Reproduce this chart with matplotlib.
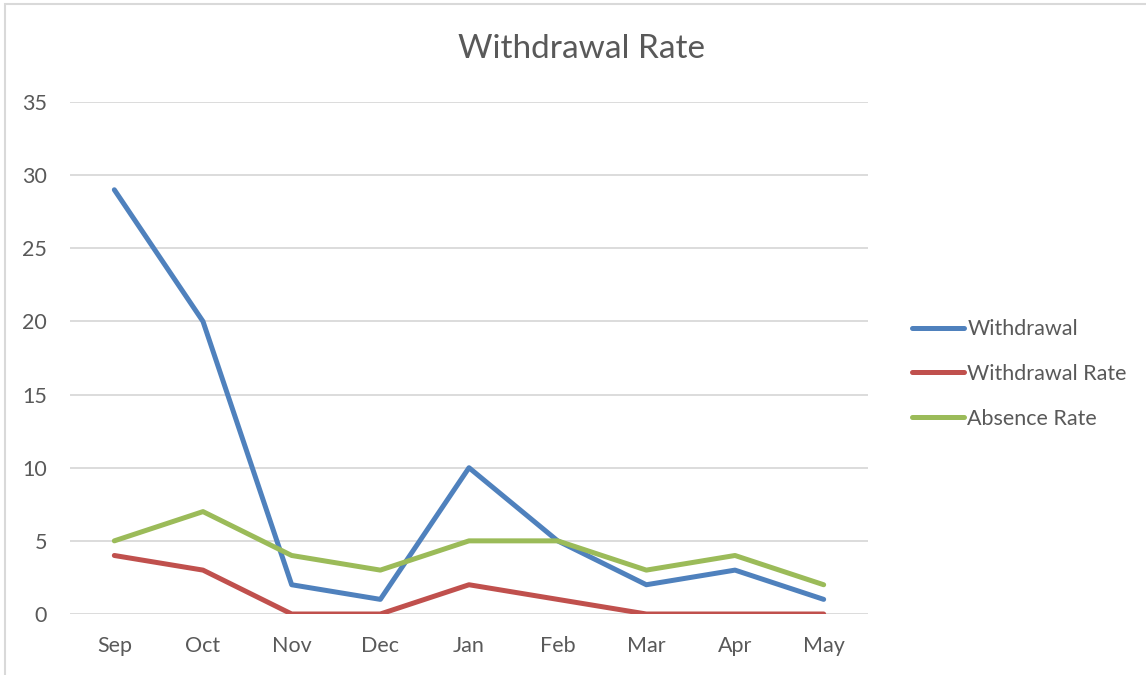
import matplotlib.pyplot as plt
import matplotlib.patches as mpatches

months = ["Sep", "Oct", "Nov", "Dec", "Jan", "Feb", "Mar", "Apr", "May"]
withdrawal = [29, 20, 2, 1, 10, 5, 2, 3, 1]
withdrawal_rate = [4, 3, 0, 0, 2, 1, 0, 0, 0]
absence_rate = [5, 7, 4, 3, 5, 5, 3, 4, 2]
yticks = [0, 5, 10, 15, 20, 25, 30, 35]

plt.rcParams['font.family'] = ['Lato', 'DejaVu Sans']
text_color = '#595959'
grid_color = '#D9D9D9'

W, H = 1146, 675
fig = plt.figure(figsize=(W / 100, H / 100), dpi=100)
ax = fig.add_axes([70 / W, (H - 614) / H, (868 - 70) / W, (614 - 102) / H])

# chart border (only left/top visible in the original)
fig.patches.append(mpatches.Rectangle((5 / W, -0.1), 1.2, 1 - 4 / H + 0.1,
                                      transform=fig.transFigure, fill=False,
                                      edgecolor='#D9D9D9', linewidth=1.5))

x = range(len(months))
series = [
    ("Withdrawal", withdrawal, '#4F81BD'),
    ("Withdrawal Rate", withdrawal_rate, '#C0504D'),
    ("Absence Rate", absence_rate, '#9BBB59'),
]
for label, vals, color in series:
    ax.plot(x, vals, color=color, linewidth=3.6, label=label,
            solid_joinstyle='round', solid_capstyle='round', zorder=3)

ax.set_xlim(-0.5, len(months) - 0.5)
ax.set_ylim(0, 35)
ax.set_xticks(list(x))
ax.set_xticklabels(months)
ax.set_yticks(yticks)
ax.tick_params(length=0, labelsize=15.5, colors=text_color)
ax.tick_params(axis='x', pad=16)
ax.tick_params(axis='y', pad=16.5)

for s in ax.spines.values():
    s.set_visible(False)
ax.yaxis.grid(True, color=grid_color, linewidth=1.3)
ax.set_axisbelow(True)

fig.text(582 / W, 1 - 49 / H, "Withdrawal Rate", ha='center', va='center',
         fontsize=24, color=text_color)

leg = fig.legend(loc='center left', bbox_to_anchor=(893 / W, 1 - 374 / H),
                 frameon=False, fontsize=15.5, handlelength=2.4,
                 handletextpad=0.15, labelspacing=1.15)
for t in leg.get_texts():
    t.set_color(text_color)

fig.savefig("out.png", dpi=100)
